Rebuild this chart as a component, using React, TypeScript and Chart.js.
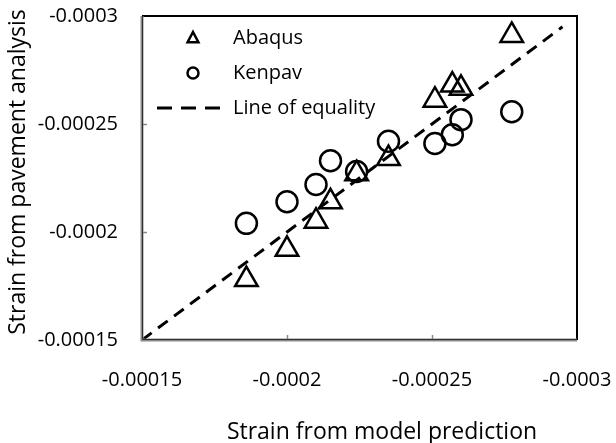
import React, { useEffect, useRef } from "react";
import { Chart, registerables } from "chart.js";

Chart.register(...registerables);

const abaqusX = [-0.000186, -0.0002, -0.00021, -0.000215, -0.000224, -0.000235, -0.000251, -0.000257, -0.00026, -0.0002775];
const abaqusY = [-0.000178, -0.000192, -0.000205, -0.000214, -0.000227, -0.000234, -0.000261, -0.000268, -0.0002665, -0.000291];
const kenpavX = [-0.000186, -0.0002, -0.00021, -0.000215, -0.000224, -0.000235, -0.000251, -0.000257, -0.00026, -0.0002775];
const kenpavY = [-0.000204, -0.000214, -0.000222, -0.000233, -0.000228, -0.000242, -0.000241, -0.000245, -0.000252, -0.0002557];
const equalityX = [-0.00015, -0.000295];
const equalityY = [-0.00015, -0.000295];
const tickValues = [-0.00015, -0.0002, -0.00025, -0.0003];
const tickLabels = ["-0.00015", "-0.0002", "-0.00025", "-0.0003"];
const legendLabels = ["Abaqus", "Kenpav", "Line of equality"];
const xTitle = "Strain from model prediction";
const yTitle = "Strain from pavement analysis";

const FONT = "'Open Sans', Lato, sans-serif";
const FS = 20;
const TFS = 23;

const framePlugin = {
  id: "frame",
  afterDraw(chart: any) {
    const { ctx, chartArea: a, scales } = chart;
    ctx.save();
    // inner ticks
    ctx.strokeStyle = "#868686";
    ctx.lineWidth = 1.5;
    for (const v of tickValues.slice(1, 3)) {
      const x = Math.round(scales.x.getPixelForValue(v)) + 0.5;
      ctx.beginPath();
      ctx.moveTo(x, a.bottom);
      ctx.lineTo(x, a.bottom - 5);
      ctx.stroke();
      const y = Math.round(scales.y.getPixelForValue(v)) + 0.5;
      ctx.beginPath();
      ctx.moveTo(a.left, y);
      ctx.lineTo(a.left + 5, y);
      ctx.stroke();
    }
    // frame
    ctx.strokeStyle = "#000";
    ctx.lineWidth = 2;
    ctx.beginPath();
    ctx.moveTo(a.left, a.top);
    ctx.lineTo(a.right, a.top);
    ctx.lineTo(a.right, a.bottom);
    ctx.stroke();
    ctx.strokeStyle = "#8a8a8a";
    ctx.lineWidth = 3;
    ctx.beginPath();
    ctx.moveTo(a.left, a.top);
    ctx.lineTo(a.left, a.bottom);
    ctx.lineTo(a.right, a.bottom);
    ctx.stroke();
    ctx.strokeStyle = "#303030";
    ctx.lineWidth = 1;
    ctx.beginPath();
    ctx.moveTo(a.left + 0.5, a.top);
    ctx.lineTo(a.left + 0.5, a.bottom - 0.5);
    ctx.lineTo(a.right, a.bottom - 0.5);
    ctx.stroke();

    // axis titles
    ctx.fillStyle = "#000";
    ctx.font = `${TFS}px ${FONT}`;
    ctx.textAlign = "center";
    ctx.textBaseline = "alphabetic";
    ctx.fillText(xTitle, 382, 439);
    ctx.save();
    ctx.translate(25, 172);
    ctx.rotate(-Math.PI / 2);
    ctx.fillText(yTitle, 0, 0);
    ctx.restore();

    // legend
    const lx = a.left + 51;
    const tx = a.left + 91;
    const rows = [a.top + 22, a.top + 57, a.top + 92];
    ctx.font = `${FS}px ${FONT}`;
    ctx.textBaseline = "middle";
    ctx.textAlign = "left";
    legendLabels.forEach((t, i) => ctx.fillText(t, tx, rows[i]));
    ctx.strokeStyle = "#000";
    ctx.lineWidth = 2.5;
    ctx.beginPath();
    const r = 6;
    ctx.moveTo(lx, rows[0] - r);
    ctx.lineTo(lx + r * 0.9, rows[0] + r * 0.7);
    ctx.lineTo(lx - r * 0.9, rows[0] + r * 0.7);
    ctx.closePath();
    ctx.stroke();
    ctx.beginPath();
    ctx.arc(lx, rows[1], 5.5, 0, Math.PI * 2);
    ctx.stroke();
    ctx.lineWidth = 3;
    ctx.setLineDash([15, 9]);
    ctx.beginPath();
    ctx.moveTo(a.left + 15, rows[2]);
    ctx.lineTo(a.left + 84, rows[2]);
    ctx.stroke();
    ctx.restore();
  },
};

const noPad = (s: any) => {
  s.paddingTop = 0;
  s.paddingBottom = 0;
  s.paddingLeft = 0;
  s.paddingRight = 0;
};

export default function App() {
  const ref = useRef<HTMLCanvasElement>(null);
  useEffect(() => {
    const chart = new Chart(ref.current!, {
      type: "scatter",
      data: {
        datasets: [
          {
            label: legendLabels[2],
            type: "line",
            data: equalityX.map((x, i) => ({ x, y: equalityY[i] })),
            borderColor: "#000",
            borderWidth: 3,
            borderDash: [12, 8],
            pointRadius: 0,
            showLine: true,
            fill: false,
          },
          {
            label: legendLabels[0],
            data: abaqusX.map((x, i) => ({ x, y: abaqusY[i] })),
            pointStyle: "triangle",
            pointRadius: 13,
            pointBorderWidth: 2.5,
            borderColor: "#000",
            backgroundColor: "rgba(0,0,0,0)",
          },
          {
            label: legendLabels[1],
            data: kenpavX.map((x, i) => ({ x, y: kenpavY[i] })),
            pointStyle: "circle",
            pointRadius: 10.5,
            pointBorderWidth: 2.5,
            borderColor: "#000",
            backgroundColor: "rgba(0,0,0,0)",
          },
        ],
      },
      options: {
        animation: false,
        responsive: false,
        layout: { padding: { top: 16, right: 39, left: 0, bottom: 0 } },
        plugins: { legend: { display: false }, tooltip: { enabled: false } },
        scales: {
          x: {
            type: "linear",
            reverse: true,
            min: -0.0003,
            max: -0.00015,
            afterBuildTicks: (s: any) => {
              s.ticks = tickValues.map((v) => ({ value: v }));
            },
            afterFit: (s: any) => {
              s.height = 103;
              noPad(s);
            },
            ticks: {
              callback: (v: any) => tickLabels[tickValues.findIndex((t) => Math.abs(t - v) < 1e-9)],
              color: "#000",
              font: { family: FONT, size: FS },
              padding: 28,
              maxRotation: 0,
            },
            grid: { display: false, drawTicks: false },
            border: { display: false },
            title: { display: false },
          },
          y: {
            type: "linear",
            reverse: true,
            min: -0.0003,
            max: -0.00015,
            afterBuildTicks: (s: any) => {
              s.ticks = tickValues.map((v) => ({ value: v }));
            },
            afterFit: (s: any) => {
              s.width = 142;
              noPad(s);
            },
            ticks: {
              callback: (v: any) => tickLabels[tickValues.findIndex((t) => Math.abs(t - v) < 1e-9)],
              color: "#000",
              font: { family: FONT, size: FS },
              padding: 24,
            },
            grid: { display: false, drawTicks: false },
            border: { display: false },
            title: { display: false },
          },
        },
      },
      plugins: [framePlugin],
    });
    return () => chart.destroy();
  }, []);
  return (
    <div style={{ position: "fixed", left: 0, top: 0, width: 616, height: 443, background: "#fff" }}>
      <canvas ref={ref} width={616} height={443} />
    </div>
  );
}
